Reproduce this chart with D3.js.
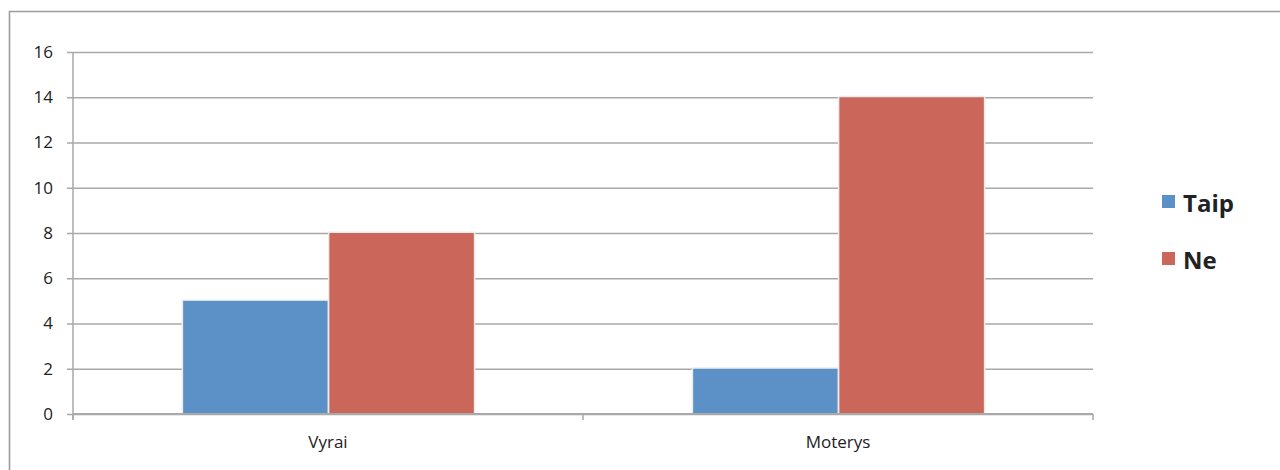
<!DOCTYPE html>
<html>
<head>
<meta charset="utf-8">
<script src="https://cdn.jsdelivr.net/npm/d3@7"></script>
<style>
  html, body { margin: 0; padding: 0; background: #fff; }
  svg { display: block; }
  text { font-family: "Open Sans", "Liberation Sans", sans-serif; fill: #222; }
</style>
</head>
<body>
<svg id="chart" width="1280" height="470"></svg>
<script>
// Chart data
const categories = ["Vyrai", "Moterys"];
const seriesNames = ["Taip", "Ne"];
const taipValues = [5, 2];
const neValues = [8, 14];
const yTicks = [0, 2, 4, 6, 8, 10, 12, 14, 16];

const seriesValues = [taipValues, neValues];
const colors = ["#5B91C7", "#CB665B"];

const svg = d3.select("#chart");

// Outer frame (runs off the right and bottom edges)
svg.append("path")
  .attr("d", "M9.5,480 L9.5,11.5 L1290,11.5")
  .attr("fill", "none")
  .attr("stroke", "#9c9c9c")
  .attr("stroke-width", 1.6);

const plot = { left: 73, right: 1093, top: 52, bottom: 414 };

const x0 = d3.scaleBand()
  .domain(categories)
  .range([plot.left, plot.right])
  .paddingInner(0)
  .paddingOuter(0);

const bw = x0.bandwidth();
const groupW = bw * 0.57;
const x1 = d3.scaleBand()
  .domain(seriesNames)
  .range([(bw - groupW) / 2 + 0.5, (bw + groupW) / 2 + 0.5])
  .paddingInner(0.012);

const y = d3.scaleLinear()
  .domain([0, 16])
  .range([plot.bottom, plot.top]);

// Horizontal gridlines with the y axis
const yAxis = d3.axisLeft(y)
  .tickValues(yTicks)
  .tickSize(-(plot.right - plot.left))
  .tickSizeOuter(0)
  .tickPadding(20)
  .tickFormat(d3.format("d"));

const gy = svg.append("g")
  .attr("transform", `translate(${plot.left},0)`)
  .call(yAxis);
gy.select(".domain").remove();
gy.selectAll(".tick line")
  .attr("x1", -6)
  .attr("stroke", "#a9a9a9")
  .attr("stroke-width", 1.5);
gy.selectAll(".tick text")
  .attr("font-size", 17)
  .attr("font-family", "'Open Sans', sans-serif")
  .attr("fill", "#1a1a1a");

// Vertical axis line
svg.append("line")
  .attr("x1", plot.left).attr("x2", plot.left)
  .attr("y1", y(16)).attr("y2", y(0) + 6)
  .attr("stroke", "#a9a9a9").attr("stroke-width", 1.5);

// Bars
const groups = svg.append("g").selectAll("g")
  .data(categories)
  .join("g")
  .attr("transform", d => `translate(${x0(d)},0)`);

groups.each(function(cat, ci) {
  const g = d3.select(this);
  seriesNames.forEach((s, si) => {
    const v = seriesValues[si][ci];
    // soft edge around each bar
    g.append("rect")
      .attr("x", x1(s) - 1.5)
      .attr("y", y(v) - 1.5)
      .attr("width", x1.bandwidth() + 3)
      .attr("height", y(0) - y(v) + 1.5)
      .attr("fill", "#ececec");
    g.append("rect")
      .attr("x", x1(s))
      .attr("y", y(v))
      .attr("width", x1.bandwidth())
      .attr("height", y(0) - y(v))
      .attr("fill", colors[si]);
  });
});

// Category axis
const xAxis = d3.axisBottom(x0).tickSize(0).tickPadding(22);
const gx = svg.append("g")
  .attr("transform", `translate(0,${plot.bottom})`)
  .call(xAxis);
gx.select(".domain").remove();
gx.selectAll(".tick text")
  .attr("font-size", 17)
  .attr("font-family", "'Open Sans', sans-serif")
  .attr("fill", "#1a1a1a");

svg.append("line")
  .attr("x1", plot.left).attr("x2", plot.right)
  .attr("y1", y(0)).attr("y2", y(0))
  .attr("stroke", "#a9a9a9").attr("stroke-width", 1.8);

// Category boundary ticks
const boundaries = categories.map(c => x0(c)).concat([x0(categories[categories.length - 1]) + bw]);
svg.append("g").selectAll("line")
  .data(boundaries)
  .join("line")
  .attr("x1", d => d).attr("x2", d => d)
  .attr("y1", y(0)).attr("y2", y(0) + 6)
  .attr("stroke", "#a9a9a9").attr("stroke-width", 1.5);

// Legend
const legend = svg.append("g").attr("transform", "translate(1162,195)");
const items = legend.selectAll("g")
  .data(seriesNames)
  .join("g")
  .attr("transform", (d, i) => `translate(0,${i * 57})`);
items.append("rect")
  .attr("width", 13).attr("height", 13)
  .attr("fill", (d, i) => colors[i]);
items.append("text")
  .attr("x", 21)
  .attr("y", 17)
  .attr("font-size", 24)
  .attr("font-weight", "bold")
  .attr("fill", "#111")
  .text(d => d);
</script>
</body>
</html>
